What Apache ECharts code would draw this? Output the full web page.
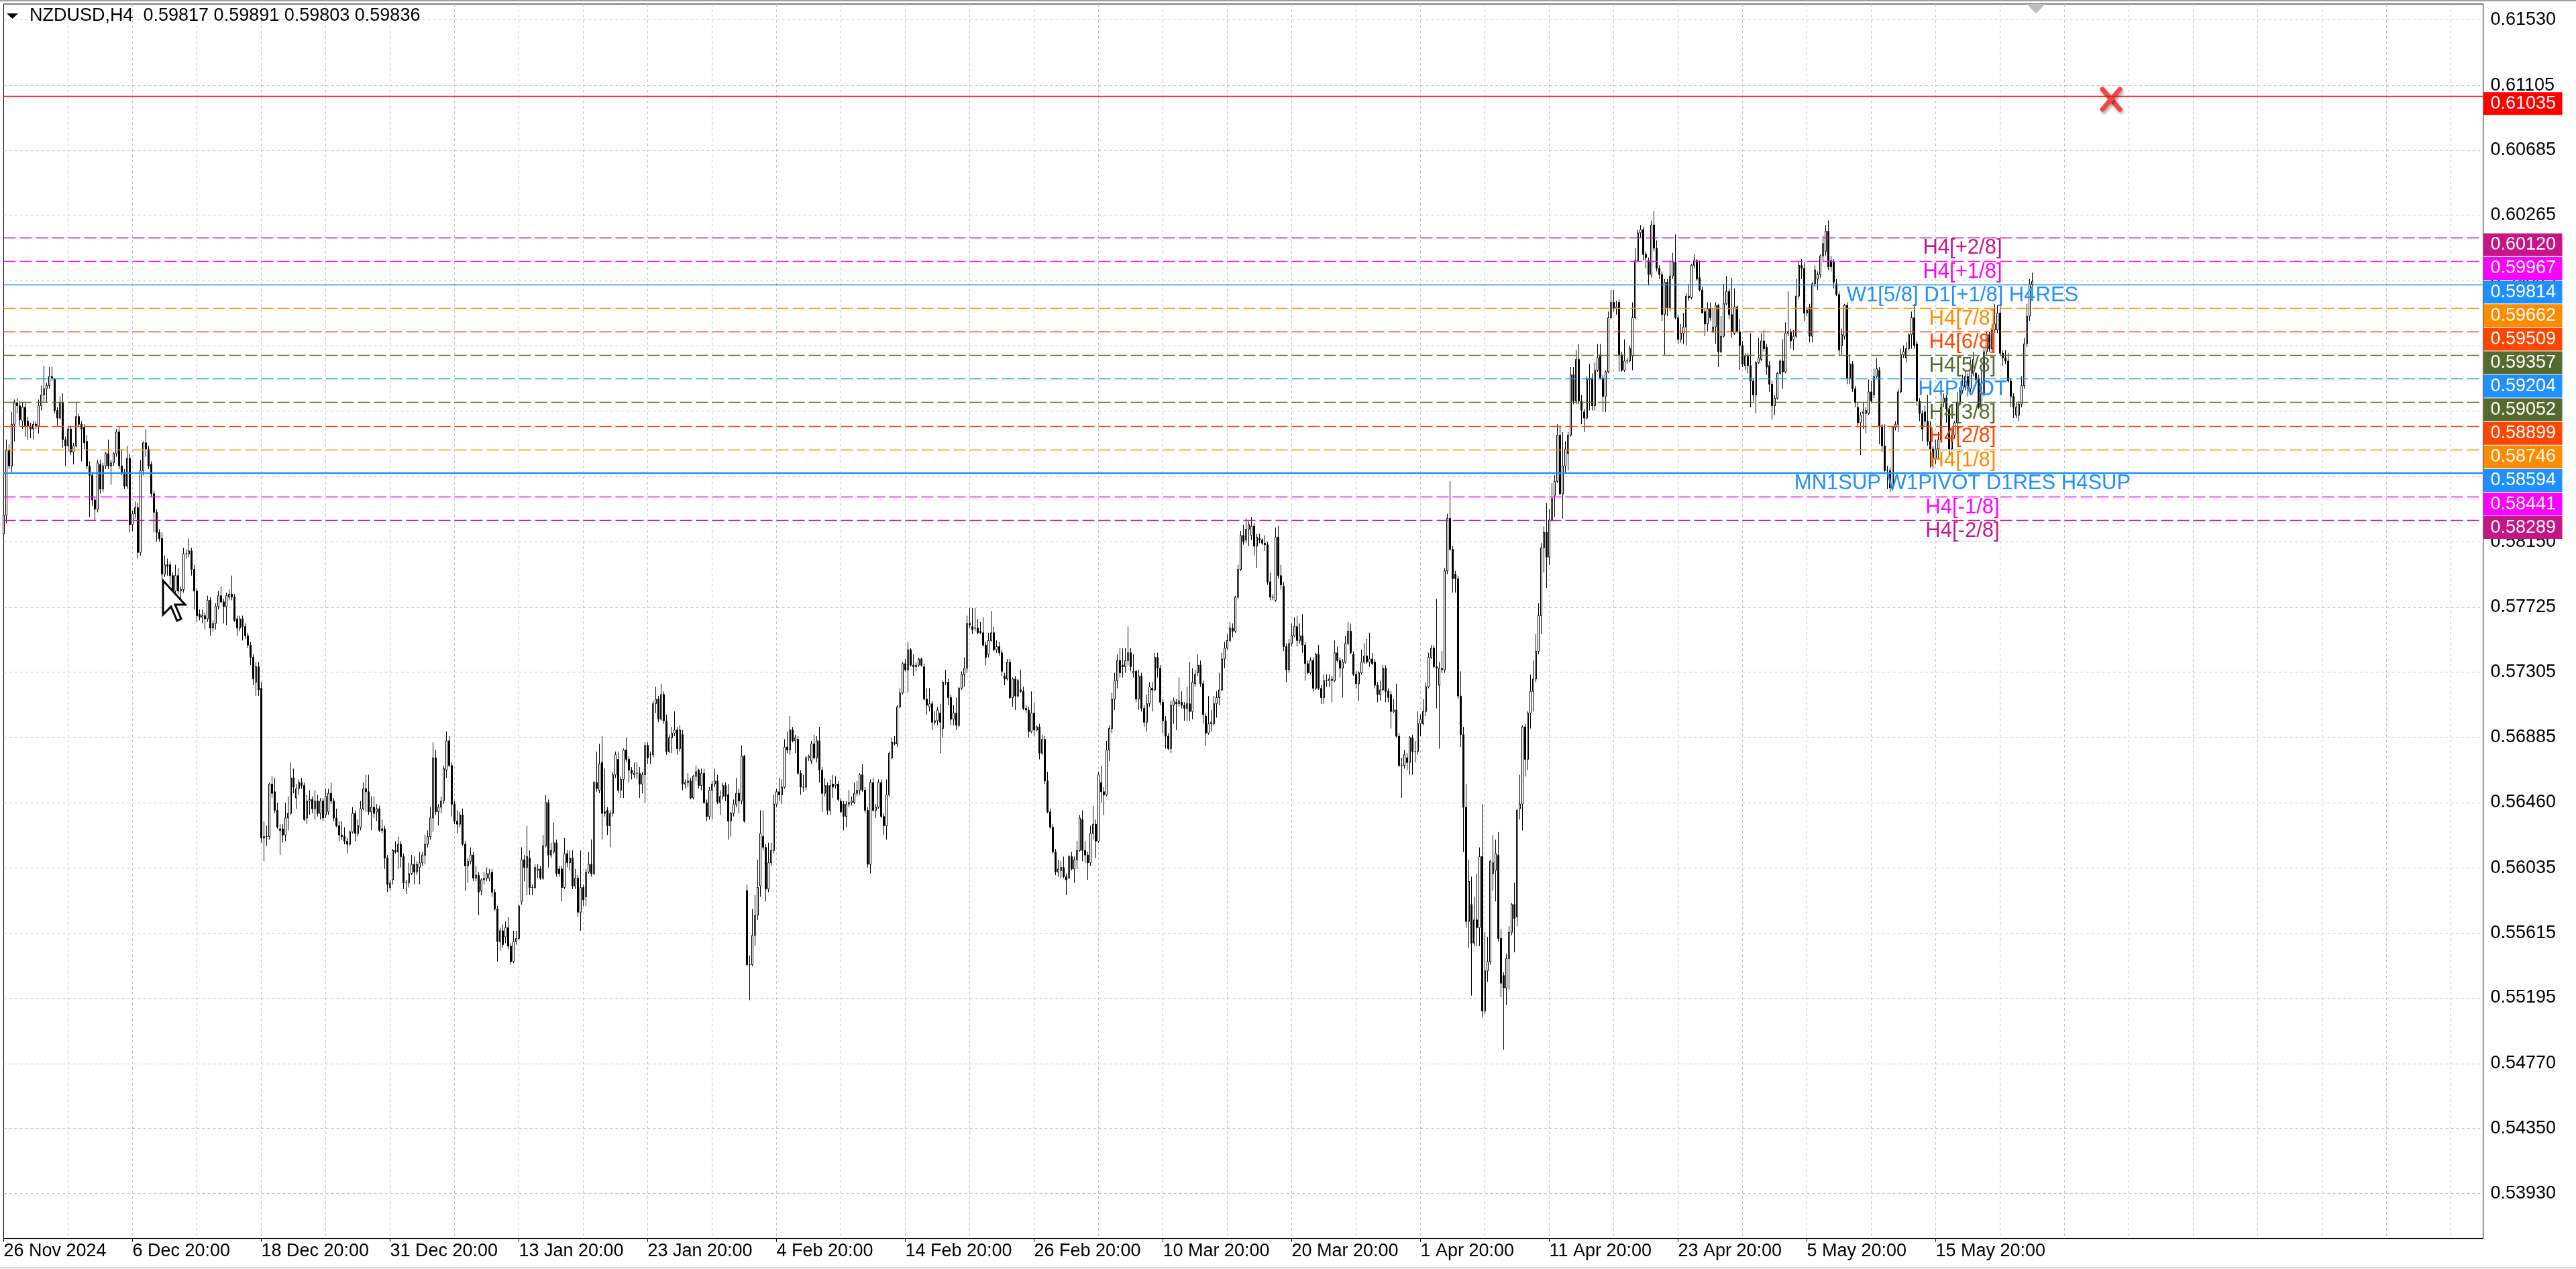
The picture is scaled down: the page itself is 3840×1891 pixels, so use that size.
<!DOCTYPE html>
<html><head><meta charset="utf-8">
<script src="https://cdn.jsdelivr.net/npm/echarts@6/dist/echarts.min.js"></script>
<style>html,body{margin:0;padding:0;background:#fff;overflow:hidden}#c{width:3840px;height:1891px}</style>
</head><body><div id="c"></div>
<script>
// ---- DATA (prices in 1/10000 units) ----
const OPEN = [
5820,5832,5874,5864,5891,5905,5903,5893,5902,5893,5890,5888,5891,5890,5903,5910,5914,5916,5922,5920,5900,5895,5905,5881,
5877,5888,5873,5877,5896,5891,5889,5880,5864,5858,5842,5836,5865,5849,5864,5872,5864,5866,5872,5886,5864,5860,5851,5869,
5826,5833,5837,5808,5861,5879,5875,5865,5846,5834,5821,5817,5794,5800,5800,5793,5783,5793,5783,5784,5807,5807,5809,5797,
5783,5768,5766,5767,5765,5777,5759,5762,5773,5780,5776,5773,5779,5781,5779,5765,5759,5765,5760,5754,5748,5740,5724,5734,
5720,5623,5624,5624,5658,5653,5641,5629,5629,5625,5636,5639,5662,5649,5655,5659,5657,5636,5647,5648,5642,5647,5639,5647,
5638,5640,5652,5647,5636,5631,5625,5624,5621,5619,5627,5639,5626,5630,5642,5655,5653,5640,5643,5640,5642,5629,5629,5610,
5591,5596,5615,5614,5619,5611,5594,5594,5600,5606,5601,5604,5607,5612,5619,5624,5636,5675,5640,5643,5647,5667,5686,5670,
5645,5634,5632,5638,5619,5605,5608,5612,5597,5599,5589,5596,5597,5597,5601,5588,5577,5556,5563,5559,5565,5553,5543,5556,
5558,5582,5609,5604,5610,5591,5591,5602,5603,5597,5618,5646,5612,5614,5620,5603,5603,5591,5613,5607,5610,5592,5597,5575,
5591,5585,5601,5606,5600,5659,5654,5672,5640,5641,5631,5639,5664,5674,5654,5661,5680,5674,5667,5664,5665,5665,5658,5664,
5683,5677,5677,5710,5713,5700,5716,5699,5679,5688,5691,5693,5681,5690,5658,5659,5660,5649,5663,5667,5657,5665,5646,5637,
5654,5658,5660,5646,5650,5657,5651,5634,5639,5645,5652,5647,5676,5589,5541,5541,5560,5573,5592,5624,5617,5590,5607,5615,
5645,5653,5651,5656,5682,5680,5693,5686,5687,5665,5656,5656,5675,5673,5684,5675,5686,5667,5652,5657,5641,5658,5657,5658,
5647,5645,5637,5645,5646,5646,5652,5654,5664,5654,5641,5606,5659,5641,5643,5659,5637,5631,5651,5675,5685,5684,5708,5717,
5736,5732,5745,5735,5734,5735,5739,5734,5713,5708,5710,5698,5699,5704,5694,5724,5724,5714,5700,5704,5696,5720,5729,5733,
5762,5760,5759,5759,5757,5756,5748,5742,5751,5756,5745,5747,5743,5728,5726,5737,5714,5726,5715,5719,5718,5707,5706,5692,
5704,5693,5695,5678,5687,5660,5640,5630,5614,5601,5602,5604,5598,5597,5611,5603,5609,5615,5635,5615,5612,5607,5626,5632,
5621,5659,5653,5651,5680,5694,5713,5725,5738,5735,5734,5738,5743,5730,5731,5713,5728,5707,5698,5710,5720,5719,5740,5733,
5711,5699,5689,5681,5709,5711,5710,5711,5709,5707,5710,5705,5723,5730,5735,5723,5702,5691,5697,5697,5710,5714,5719,5739,
5746,5751,5759,5757,5779,5797,5819,5816,5823,5819,5825,5812,5817,5816,5814,5813,5789,5779,5777,5818,5793,5786,5747,5732,
5749,5754,5760,5751,5754,5748,5736,5730,5738,5720,5742,5720,5714,5725,5725,5725,5725,5743,5738,5733,5737,5749,5757,5742,
5729,5723,5730,5737,5741,5737,5739,5737,5722,5716,5719,5733,5718,5716,5705,5706,5689,5670,5670,5675,5672,5688,5679,5679,
5697,5697,5705,5721,5740,5746,5734,5722,5732,5732,5796,5830,5810,5794,5791,5715,5690,5643,5569,5580,5555,5570,5565,5611,
5511,5537,5543,5600,5602,5612,5558,5534,5526,5545,5562,5580,5572,5642,5645,5695,5674,5704,5718,5726,5744,5767,5811,5821,
5805,5829,5845,5854,5884,5846,5864,5872,5884,5923,5906,5933,5906,5899,5895,5920,5921,5903,5926,5936,5921,5909,5925,5960,
5970,5966,5970,5936,5926,5932,5932,5935,5960,5997,6015,6017,6001,5997,5988,6020,6005,5992,5988,5962,5983,5966,5987,5996,
5960,5946,5950,5954,5974,5973,5994,5997,5986,5978,5964,5956,5966,5951,5954,5968,5938,5948,5969,5977,5962,5950,5967,5951,
5942,5929,5935,5929,5919,5910,5931,5933,5945,5941,5929,5917,5903,5908,5924,5932,5925,5950,5951,5946,5948,5974,5994,5992,
5963,5967,5948,5982,5985,5988,6000,6003,6016,5997,5996,5982,5975,5942,5948,5968,5921,5930,5914,5902,5892,5898,5898,5898,
5912,5910,5922,5926,5890,5877,5861,5861,5850,5889,5891,5912,5936,5934,5940,5949,5960,5943,5906,5898,5899,5893,5880,5875,
5869,5875,5881,5905,5908,5901,5875,5884,5892,5905,5913,5915,5922,5914,5924,5924,5921,5903,5911,5938,5949,5940,5952,5952,
5963,5937,5934,5932,5919,5909,5897,5897,5904,5916,5943,5961,5981.7];
const HIGH = [
5837,5881,5878,5899,5907,5908,5906,5905,5905,5896,5892,5893,5893,5907,5916,5929,5918,5928,5928,5921,5902,5909,5911,5883,
5890,5890,5879,5905,5898,5893,5891,5884,5867,5860,5844,5868,5868,5866,5873,5881,5868,5873,5888,5889,5875,5862,5877,5872,
5835,5841,5840,5868,5880,5888,5877,5867,5848,5836,5823,5821,5806,5804,5802,5795,5800,5798,5786,5811,5810,5817,5811,5800,
5785,5771,5771,5769,5780,5779,5764,5775,5783,5786,5778,5782,5784,5793,5781,5767,5767,5767,5762,5756,5750,5742,5737,5737,
5724,5634,5631,5659,5663,5662,5646,5632,5632,5646,5650,5672,5668,5658,5661,5662,5659,5651,5654,5650,5654,5651,5649,5649,
5655,5655,5659,5649,5642,5634,5634,5630,5623,5628,5643,5641,5635,5647,5659,5664,5664,5650,5650,5645,5644,5635,5631,5612,
5596,5616,5621,5624,5621,5613,5596,5607,5612,5611,5608,5614,5614,5625,5628,5643,5685,5680,5645,5650,5670,5692,5689,5672,
5647,5641,5640,5642,5621,5610,5617,5614,5605,5601,5597,5601,5604,5603,5603,5590,5579,5565,5567,5569,5572,5555,5563,5563,
5580,5617,5612,5631,5615,5593,5606,5606,5605,5625,5651,5648,5620,5633,5622,5605,5605,5623,5615,5615,5615,5603,5599,5615,
5593,5603,5614,5622,5660,5679,5684,5689,5668,5643,5641,5666,5679,5679,5663,5681,5688,5676,5669,5672,5672,5669,5666,5685,
5685,5679,5712,5721,5715,5723,5718,5703,5690,5695,5705,5695,5696,5693,5661,5665,5662,5664,5670,5668,5668,5668,5648,5656,
5660,5668,5664,5654,5659,5659,5658,5640,5648,5662,5655,5683,5677,5593,5547,5577,5586,5609,5641,5641,5619,5620,5620,5651,
5655,5662,5661,5687,5692,5702,5695,5690,5689,5667,5664,5676,5677,5686,5690,5689,5695,5669,5662,5659,5661,5664,5663,5660,
5649,5647,5647,5654,5650,5659,5660,5665,5671,5656,5643,5661,5662,5645,5661,5661,5639,5661,5679,5688,5689,5709,5720,5737,
5739,5750,5746,5742,5737,5740,5740,5736,5720,5720,5712,5705,5708,5710,5725,5732,5726,5716,5709,5714,5721,5731,5740,5767,
5772,5772,5772,5765,5763,5766,5750,5756,5770,5760,5751,5750,5745,5730,5739,5739,5727,5728,5726,5732,5721,5709,5708,5718,
5711,5696,5697,5690,5689,5666,5642,5632,5616,5609,5608,5611,5600,5612,5614,5611,5621,5638,5641,5621,5614,5631,5644,5635,
5666,5670,5656,5686,5696,5717,5730,5742,5746,5746,5746,5760,5746,5742,5732,5732,5730,5709,5716,5724,5724,5743,5743,5735,
5713,5702,5691,5712,5714,5713,5727,5718,5711,5721,5737,5733,5732,5742,5738,5725,5704,5715,5706,5715,5718,5730,5743,5750,
5755,5763,5762,5780,5800,5822,5826,5830,5828,5831,5827,5820,5820,5817,5819,5815,5795,5781,5824,5825,5800,5789,5749,5752,
5762,5766,5767,5762,5768,5750,5738,5740,5740,5743,5748,5722,5729,5729,5729,5728,5751,5747,5740,5739,5754,5763,5762,5744,
5731,5731,5745,5749,5752,5756,5743,5739,5724,5725,5735,5735,5720,5718,5713,5723,5691,5675,5680,5678,5689,5690,5686,5705,
5703,5713,5724,5743,5748,5748,5778,5737,5744,5798,5833,5854,5812,5796,5793,5731,5695,5658,5609,5598,5585,5600,5617,5645,
5562,5559,5609,5625,5622,5627,5564,5536,5548,5566,5581,5594,5642,5664,5696,5697,5705,5729,5738,5755,5775,5814,5825,5840,
5836,5853,5858,5891,5890,5886,5880,5886,5928,5928,5939,5943,5910,5901,5922,5930,5924,5931,5943,5943,5923,5926,5964,5978,
5978,5971,5972,5938,5946,5934,5942,5970,6005,6017,6020,6019,6003,5999,6023,6029,6010,5994,5990,5985,5985,5997,6002,6014,
5962,5956,5963,5976,5982,5995,6001,5998,5997,5980,5966,5970,5970,5966,5970,5969,5961,5982,5987,5979,5986,5979,5968,5959,
5945,5937,5937,5950,5921,5932,5947,5950,5952,5943,5932,5919,5910,5925,5933,5946,5957,5977,5953,5952,5985,5996,5998,5996,
5967,5969,5983,5994,5990,6001,6013,6020,6023,6000,5998,5985,5977,5953,5969,5970,5936,5932,5916,5905,5899,5905,5902,5920,
5919,5927,5934,5928,5891,5891,5864,5863,5890,5893,5914,5940,5942,5944,5950,5964,5969,5945,5908,5900,5903,5910,5893,5877,
5881,5886,5911,5911,5910,5903,5885,5893,5912,5915,5923,5925,5924,5933,5938,5925,5923,5927,5941,5951,5951,5956,5969,5968,
5969,5939,5939,5937,5921,5911,5905,5906,5922,5947,5969,5985,5989.1];
const LOW = [
5815,5827,5862,5860,5880,5898,5890,5888,5883,5881,5882,5881,5888,5885,5900,5905,5905,5914,5919,5898,5890,5894,5876,5864,
5873,5871,5865,5876,5889,5867,5875,5862,5831,5838,5829,5834,5846,5847,5862,5862,5852,5864,5870,5862,5858,5849,5849,5821,
5822,5830,5804,5806,5858,5870,5862,5844,5821,5815,5815,5791,5792,5793,5787,5780,5765,5781,5778,5782,5804,5805,5793,5771,
5763,5764,5762,5758,5763,5754,5757,5758,5771,5775,5762,5761,5777,5777,5763,5754,5757,5751,5752,5746,5735,5722,5715,5715,
5620,5608,5618,5622,5649,5639,5629,5612,5620,5621,5628,5638,5652,5642,5651,5655,5634,5632,5638,5639,5635,5637,5635,5634,
5636,5638,5645,5634,5630,5621,5622,5619,5613,5618,5626,5621,5624,5628,5641,5640,5638,5628,5636,5634,5627,5626,5603,5588,
5589,5593,5613,5603,5604,5590,5587,5591,5599,5593,5599,5593,5605,5606,5617,5622,5627,5638,5631,5639,5645,5662,5669,5637,
5632,5626,5630,5618,5589,5594,5606,5595,5595,5573,5586,5593,5595,5595,5585,5576,5543,5550,5552,5555,5551,5541,5542,5554,
5557,5580,5595,5586,5586,5586,5590,5597,5596,5596,5617,5604,5610,5613,5598,5598,5582,5590,5604,5602,5590,5590,5572,5563,
5579,5579,5600,5598,5599,5653,5652,5622,5637,5625,5617,5637,5662,5652,5649,5649,5672,5659,5661,5662,5661,5649,5652,5646,
5671,5671,5675,5704,5698,5699,5697,5677,5678,5678,5689,5677,5679,5654,5655,5656,5648,5648,5660,5655,5654,5645,5634,5635,
5635,5656,5645,5638,5648,5647,5622,5624,5637,5643,5639,5645,5633,5540,5518,5540,5553,5570,5585,5615,5582,5588,5605,5613,
5643,5647,5645,5655,5678,5677,5685,5678,5664,5651,5653,5654,5673,5671,5674,5672,5659,5640,5650,5638,5638,5649,5655,5647,
5639,5628,5630,5643,5644,5645,5650,5651,5653,5639,5604,5600,5640,5636,5642,5636,5625,5622,5650,5674,5683,5682,5707,5716,
5731,5717,5734,5728,5731,5734,5734,5712,5703,5705,5693,5696,5696,5678,5688,5722,5709,5696,5696,5693,5695,5719,5721,5730,
5759,5755,5757,5755,5755,5747,5735,5740,5750,5744,5743,5741,5728,5722,5725,5713,5708,5706,5714,5717,5706,5704,5688,5691,
5689,5692,5674,5677,5658,5639,5629,5613,5599,5598,5597,5597,5586,5597,5602,5594,5603,5614,5608,5607,5596,5605,5622,5610,
5620,5646,5638,5650,5673,5691,5706,5720,5727,5727,5730,5735,5731,5727,5711,5706,5705,5695,5692,5708,5705,5718,5727,5709,
5691,5681,5680,5678,5697,5693,5708,5707,5699,5699,5699,5700,5721,5728,5721,5697,5683,5690,5692,5696,5701,5709,5718,5733,
5745,5750,5753,5756,5778,5796,5813,5814,5812,5816,5806,5798,5814,5813,5809,5787,5777,5777,5776,5791,5784,5744,5724,5730,
5747,5753,5747,5749,5743,5725,5729,5729,5718,5719,5719,5710,5710,5721,5721,5711,5724,5737,5727,5714,5736,5748,5742,5728,
5720,5712,5729,5736,5736,5734,5735,5720,5711,5712,5718,5711,5711,5694,5704,5688,5669,5649,5668,5667,5664,5664,5672,5677,
5689,5696,5702,5720,5739,5733,5707,5681,5730,5730,5794,5809,5782,5782,5713,5682,5614,5565,5552,5521,5553,5553,5553,5507,
5509,5530,5541,5589,5582,5556,5520,5486,5515,5525,5560,5549,5566,5635,5628,5663,5667,5694,5705,5724,5742,5755,5795,5785,
5800,5828,5831,5853,5845,5830,5859,5861,5883,5904,5904,5904,5891,5886,5894,5900,5900,5900,5925,5920,5899,5899,5924,5959,
5964,5962,5925,5925,5925,5930,5931,5926,5959,5996,6012,5997,5992,5981,5986,6003,5990,5985,5958,5936,5961,5964,5985,5959,
5943,5944,5943,5942,5971,5972,5992,5984,5977,5963,5948,5951,5958,5950,5943,5928,5937,5947,5968,5959,5947,5949,5950,5926,
5928,5926,5924,5902,5906,5898,5930,5932,5938,5923,5912,5894,5897,5907,5923,5914,5924,5948,5940,5939,5947,5972,5985,5958,
5961,5944,5944,5980,5978,5986,5996,6000,5991,5990,5979,5974,5935,5936,5946,5917,5917,5912,5902,5889,5871,5888,5885,5897,
5905,5908,5921,5878,5873,5860,5849,5847,5848,5887,5886,5911,5934,5931,5939,5940,5940,5903,5893,5880,5890,5877,5863,5862,
5865,5868,5879,5902,5892,5871,5874,5882,5885,5903,5911,5913,5909,5912,5922,5916,5901,5900,5909,5936,5938,5938,5950,5950,
5935,5929,5930,5918,5902,5895,5895,5893,5902,5914,5941,5958,5980.3];
const CLOSE = [
5832,5874,5864,5891,5905,5903,5894,5902,5890,5890,5888,5891,5890,5903,5910,5914,5916,5922,5921,5900,5895,5905,5881,5877,
5888,5873,5877,5896,5891,5888,5879,5864,5858,5842,5836,5866,5849,5864,5872,5864,5866,5872,5886,5864,5860,5851,5869,5826,
5833,5837,5808,5861,5879,5875,5864,5846,5834,5821,5817,5794,5800,5799,5793,5783,5793,5783,5784,5807,5807,5809,5797,5783,
5767,5766,5767,5765,5777,5759,5762,5773,5780,5776,5773,5780,5781,5779,5764,5759,5765,5760,5754,5748,5740,5726,5734,5719,
5623,5624,5624,5658,5652,5641,5630,5628,5625,5636,5639,5662,5656,5655,5659,5657,5635,5647,5648,5642,5647,5639,5647,5636,
5650,5652,5647,5636,5631,5625,5624,5621,5619,5627,5639,5626,5631,5642,5655,5653,5640,5643,5639,5642,5628,5628,5610,5593,
5594,5615,5614,5619,5611,5594,5594,5600,5606,5601,5606,5607,5612,5619,5624,5636,5675,5640,5643,5647,5668,5686,5670,5645,
5634,5632,5638,5619,5605,5608,5612,5597,5599,5588,5596,5597,5600,5600,5588,5577,5556,5563,5554,5565,5553,5543,5556,5558,
5579,5609,5604,5611,5591,5591,5604,5603,5597,5618,5646,5612,5615,5620,5600,5600,5591,5613,5607,5610,5592,5597,5575,5591,
5583,5601,5606,5600,5659,5655,5671,5639,5639,5631,5639,5664,5677,5654,5661,5680,5674,5667,5665,5665,5665,5658,5664,5683,
5675,5677,5710,5713,5700,5716,5699,5679,5688,5691,5693,5681,5693,5658,5659,5660,5649,5663,5666,5657,5665,5646,5637,5654,
5658,5660,5646,5650,5657,5650,5634,5639,5645,5652,5647,5676,5634,5541,5541,5560,5573,5591,5626,5617,5590,5607,5615,5645,
5653,5651,5656,5682,5680,5693,5686,5688,5665,5656,5656,5675,5676,5684,5675,5686,5667,5652,5657,5641,5657,5656,5658,5648,
5640,5637,5645,5646,5647,5652,5654,5664,5654,5641,5606,5659,5641,5643,5659,5637,5631,5651,5678,5685,5684,5708,5717,5736,
5732,5745,5735,5734,5735,5739,5735,5713,5709,5710,5698,5699,5706,5698,5724,5724,5714,5700,5704,5696,5720,5729,5733,5762,
5761,5758,5759,5756,5756,5748,5740,5751,5756,5745,5747,5743,5731,5726,5737,5714,5726,5715,5725,5718,5707,5706,5692,5704,
5693,5695,5678,5687,5660,5640,5630,5614,5601,5603,5604,5598,5596,5611,5603,5609,5615,5636,5615,5612,5607,5626,5632,5621,
5664,5653,5651,5680,5694,5713,5725,5738,5730,5734,5738,5743,5734,5731,5713,5728,5707,5698,5710,5721,5719,5740,5733,5711,
5699,5689,5681,5709,5712,5710,5712,5709,5707,5710,5705,5724,5729,5735,5723,5703,5691,5697,5698,5710,5714,5719,5739,5746,
5751,5759,5757,5779,5797,5819,5815,5823,5826,5825,5812,5818,5816,5814,5813,5789,5779,5779,5818,5793,5787,5747,5732,5749,
5754,5760,5751,5754,5748,5736,5730,5738,5720,5742,5720,5714,5725,5725,5726,5726,5743,5738,5733,5737,5749,5757,5743,5729,
5723,5730,5737,5741,5737,5739,5736,5722,5716,5719,5733,5718,5714,5705,5706,5689,5670,5670,5677,5672,5688,5679,5679,5697,
5700,5705,5721,5740,5746,5734,5733,5733,5733,5796,5830,5810,5791,5791,5715,5690,5643,5569,5595,5555,5570,5565,5611,5511,
5537,5543,5608,5607,5613,5558,5529,5526,5545,5562,5580,5571,5641,5645,5695,5674,5704,5718,5726,5744,5767,5811,5821,5805,
5829,5843,5854,5884,5846,5864,5875,5884,5923,5906,5933,5906,5900,5895,5920,5921,5903,5926,5934,5921,5909,5925,5960,5970,
5966,5967,5936,5926,5932,5932,5940,5960,5997,6015,6017,6001,5999,5988,6020,6005,5992,5988,5962,5983,5966,5987,5996,5960,
5946,5950,5954,5974,5973,5994,5997,5985,5978,5963,5956,5966,5960,5954,5968,5938,5948,5969,5977,5962,5951,5967,5951,5942,
5930,5935,5929,5919,5910,5931,5934,5945,5940,5928,5917,5903,5908,5924,5932,5925,5950,5951,5945,5948,5974,5994,5992,5963,
5965,5948,5982,5991,5988,6000,6008,6016,5993,5993,5983,5975,5939,5949,5968,5921,5930,5914,5905,5892,5897,5899,5900,5912,
5906,5922,5927,5890,5877,5861,5861,5850,5889,5891,5912,5936,5938,5940,5949,5960,5942,5906,5898,5888,5893,5880,5875,5869,
5875,5881,5902,5908,5901,5875,5884,5892,5905,5913,5916,5922,5914,5927,5933,5920,5902,5911,5938,5949,5940,5952,5956,5963,
5937,5934,5932,5919,5909,5902,5902,5904,5916,5943,5961,5982,5983.6];

const DATE_LABELS = ['26 Nov 2024','6 Dec 20:00','18 Dec 20:00','31 Dec 20:00','13 Jan 20:00','23 Jan 20:00',
  '4 Feb 20:00','14 Feb 20:00','26 Feb 20:00','10 Mar 20:00','20 Mar 20:00','1 Apr 20:00','11 Apr 20:00',
  '23 Apr 20:00','5 May 20:00','15 May 20:00'];
const PRICE_TICKS = [0.61530,0.61105,0.60685,0.60265,0.59845,0.59420,0.58995,0.58570,0.58150,0.57725,
  0.57305,0.56885,0.56460,0.56035,0.55615,0.55195,0.54770,0.54350,0.53930];
const LEVEL_PRICES = [0.60120,0.59967,0.59814,0.59662,0.59509,0.59357,0.59204,0.59052,0.58899,0.58746,0.58594,0.58441,0.58289];
const LEVEL_TEXTS = ['H4[+2/8]','H4[+1/8]','W1[5/8] D1[+1/8] H4RES','H4[7/8]','H4[6/8]','H4[5/8]','H4PIVOT',
  'H4[3/8]','H4[2/8]','H4[1/8]','MN1SUP W1PIVOT D1RES H4SUP','H4[-1/8]','H4[-2/8]'];
const ALERT_PRICE = 0.61035;
const TITLE_TEXT = 'NZDUSD,H4  0.59817 0.59891 0.59803 0.59836';

// ---- STYLE / LAYOUT ----
const LEVEL_STYLE = [
  {c:'#C71585', t:[18,6], w:1.3}, {c:'#FF00FF', t:[18,6], w:1.3}, {c:'#1E90FF', t:'solid', w:1.3},
  {c:'#FF8C00', t:[18,6], w:1.3}, {c:'#FF4500', t:[18,6], w:1.3}, {c:'#556B2F', t:[18,6], w:1.3},
  {c:'#1E90FF', t:[18,6], w:1.3}, {c:'#556B2F', t:[18,6], w:1.3}, {c:'#FF4500', t:[18,6], w:1.3},
  {c:'#FF8C00', t:[18,6], w:1.3}, {c:'#1E90FF', t:'solid', w:2.4}, {c:'#FF00FF', t:[18,6], w:1.3},
  {c:'#C71585', t:[18,6], w:1.3}];
const SLOTS = 925, LABEL_BAR = 730, LABEL_STEP = 48, GRID_STEP = 24;
const Y_MIN = 0.536366, Y_MAX = 0.616317;
const FONT = 'Liberation Sans, Arial, sans-serif';

const cats = Array.from({length: SLOTS}, (_, i) => String(i));
const candles = CLOSE.map((c, i) => {
  const o = OPEN[i];
  return [o/1e4, c/1e4, Math.min(LOW[i], o, c)/1e4, Math.max(HIGH[i], o, c)/1e4];
});
const lastLabelIdx = (DATE_LABELS.length - 1) * LABEL_STEP;

const chart = echarts.init(document.getElementById('c'), null, {renderer: 'canvas'});
const tagLabel = (bg) => ({
  show: true, position: 'end', distance: 1, offset: [0, 11], formatter: '{b}', color: '#fff', backgroundColor: bg,
  fontSize: 27, fontFamily: FONT, lineHeight: 27, padding: [4, 9, 3, 10], width: 98
});

chart.setOption({
  animation: false,
  backgroundColor: '#fff',
  title: {text: TITLE_TEXT, left: 44, top: 10, padding: 0,
    textStyle: {fontSize: 27, fontWeight: 'normal', fontFamily: FONT, color: '#000'}},
  grid: {left: 5.5, right: 138.5, top: 6, bottom: 45.4, show: true, borderColor: '#000', borderWidth: 1,
    backgroundColor: 'transparent', containLabel: false},
  xAxis: {
    type: 'category', data: cats, boundaryGap: false,
    axisLine: {show: true, lineStyle: {color: '#000', width: 1}},
    axisTick: {show: true, length: 5, lineStyle: {color: '#000'},
      interval: (i) => i % LABEL_STEP === 0 && i <= lastLabelIdx},
    axisLabel: {show: true, align: 'left', margin: 5, fontSize: 27, fontFamily: FONT, color: '#000',
      interval: (i) => i % LABEL_STEP === 0 && i <= lastLabelIdx,
      formatter: (v) => { const k = Number(v) / LABEL_STEP; return DATE_LABELS[k] || ''; }},
    splitLine: {show: true, interval: (i) => i % GRID_STEP === 0 && i > 0,
      lineStyle: {color: '#c4c4c4', type: [4, 4], width: 1}}
  },
  yAxis: {
    type: 'value', min: Y_MIN, max: Y_MAX, scale: true, position: 'right',
    axisLine: {show: false}, axisTick: {show: false}, axisLabel: {show: false}, splitLine: {show: false}
  },
  series: [
    {
      type: 'candlestick', name: 'NZDUSD', data: candles, large: false, barWidth: 2, clip: false, z: 2,
      itemStyle: {color: '#ffffff', color0: '#000000', borderColor: '#000000', borderColor0: '#000000',
        borderColorDoji: '#000000', borderWidth: 1, opacity: 1},
      emphasis: {disabled: true},
      markLine: {
        silent: true, z: 1, symbol: ['none', 'none'], animation: false, precision: 6,
        lineStyle: {color: '#c4c4c4', type: [4, 4], width: 1},
        label: {show: true, position: 'end', distance: 11, formatter: '{b}', color: '#000',
          fontSize: 27, fontFamily: FONT},
        emphasis: {disabled: true},
        data: PRICE_TICKS.map(v => ({yAxis: v, name: v.toFixed(5)}))
      }
    },
    {
      type: 'scatter', name: 'levels', z: 6, clip: false, symbol: 'circle', symbolSize: 1,
      itemStyle: {color: 'rgba(0,0,0,0)', opacity: 1},
      label: {show: true, position: 'bottom', distance: 0, formatter: '{b}', fontSize: 31, fontFamily: FONT, opacity: 1},
      emphasis: {disabled: true},
      data: LEVEL_PRICES.map((v, i) => ({value: [LABEL_BAR, v], name: LEVEL_TEXTS[i],
        label: {color: LEVEL_STYLE[i].c}})),
      markLine: {
        silent: true, z: 5, symbol: ['none', 'none'], animation: false, precision: 6,
        emphasis: {disabled: true},
        data: LEVEL_PRICES.map((v, i) => ({
          yAxis: v, name: v.toFixed(5),
          lineStyle: {color: LEVEL_STYLE[i].c, type: LEVEL_STYLE[i].t, width: LEVEL_STYLE[i].w, opacity: 1},
          label: tagLabel(LEVEL_STYLE[i].c)
        })).concat([{
          yAxis: ALERT_PRICE, name: ALERT_PRICE.toFixed(5),
          lineStyle: {color: '#FF0000', type: 'solid', width: 1.3, opacity: 1},
          label: tagLabel('#FF0000')
        }])
      }
    }
  ],
  graphic: [
    {type: 'line', shape: {x1: 0, y1: 1, x2: 3840, y2: 1}, style: {stroke: '#a0a0a0', lineWidth: 2}, silent: true},
    {type: 'line', shape: {x1: 0, y1: 1889, x2: 3840, y2: 1889}, style: {stroke: '#d4d4d4', lineWidth: 2}, silent: true},
    {type: 'polygon', shape: {points: [[10, 20], [27, 20], [18.5, 28]]}, style: {fill: '#000'}, silent: true, z: 10},
    {type: 'polygon', shape: {points: [[3021, 6], [3049, 6], [3035, 20]]}, style: {fill: '#bdbdbd'}, silent: true, z: 10},
    {type: 'group', x: 3147, y: 148, z: 10, silent: true, children: [
      {type: 'line', shape: {x1: -13, y1: -15, x2: 13, y2: 15},
        style: {stroke: '#f24646', lineWidth: 7, lineCap: 'round', shadowBlur: 4, shadowColor: 'rgba(0,0,0,0.35)', shadowOffsetX: 2, shadowOffsetY: 3}},
      {type: 'line', shape: {x1: 13, y1: -15, x2: -13, y2: 15},
        style: {stroke: '#f24646', lineWidth: 7, lineCap: 'round', shadowBlur: 4, shadowColor: 'rgba(0,0,0,0.35)', shadowOffsetX: 2, shadowOffsetY: 3}}
    ]},
    {type: 'polygon', x: 243, y: 865, z: 10, silent: true,
      shape: {points: [[0, 0], [0, 51], [12, 39], [21, 60], [27, 57], [18, 36], [33, 36]]},
      style: {fill: '#fff', stroke: '#000', lineWidth: 3, lineJoin: 'miter'}}
  ]
});
</script>
</body></html>
